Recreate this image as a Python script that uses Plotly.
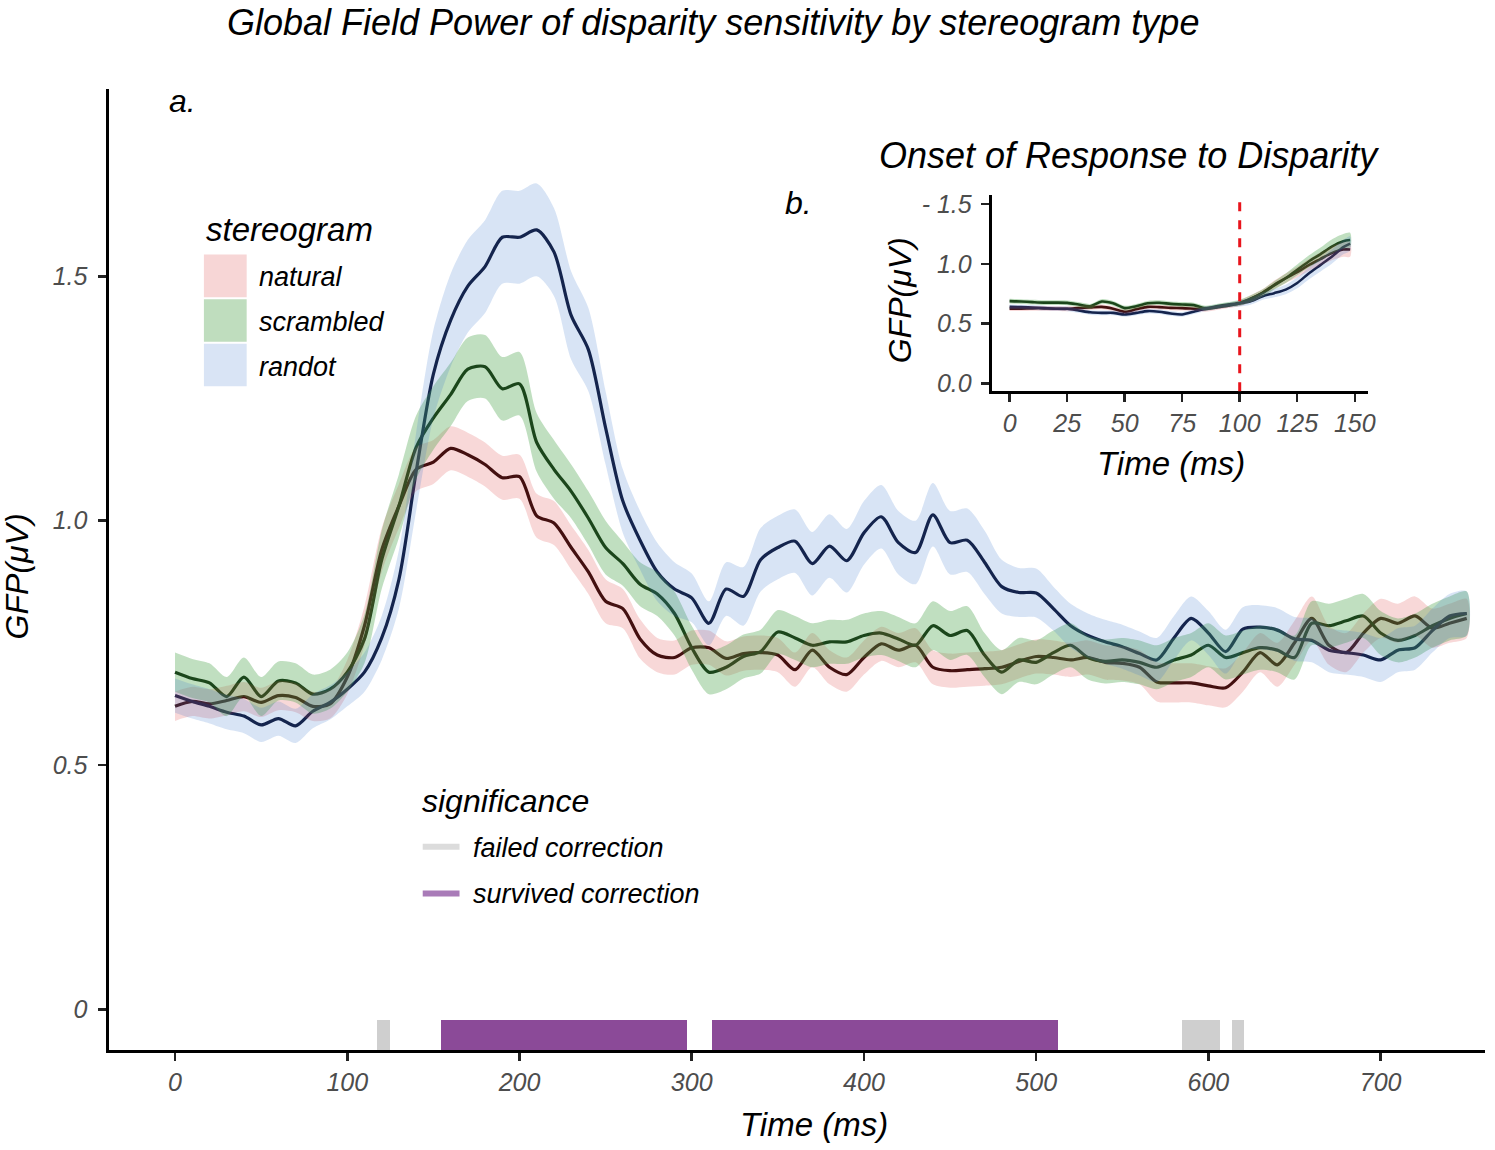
import plotly.graph_objects as go

W, H = 1495, 1150

# ---------------- data ----------------
time_ms = list(range(0, 751, 10))

natural = [0.620, 0.630, 0.625, 0.632, 0.640, 0.628, 0.642, 0.638, 0.620, 0.625,
           0.680, 0.785, 0.940, 1.030, 1.105, 1.120, 1.148, 1.135, 1.115, 1.088,
           1.090, 1.010, 0.995, 0.945, 0.895, 0.835, 0.820, 0.758, 0.725, 0.720,
           0.740, 0.740, 0.718, 0.728, 0.730, 0.725, 0.695, 0.735, 0.700, 0.685,
           0.720, 0.748, 0.735, 0.745, 0.700, 0.693, 0.695, 0.697, 0.700, 0.712,
           0.722, 0.720, 0.715, 0.720, 0.710, 0.708, 0.700, 0.670, 0.668, 0.668,
           0.662, 0.658, 0.690, 0.730, 0.705, 0.750, 0.800, 0.745, 0.730, 0.770,
           0.800, 0.790, 0.805, 0.780, 0.790, 0.800]

scrambled = [0.690, 0.677, 0.668, 0.640, 0.680, 0.640, 0.672, 0.668, 0.645, 0.655,
             0.690, 0.758, 0.920, 1.030, 1.150, 1.210, 1.258, 1.310, 1.315, 1.270,
             1.280, 1.160, 1.105, 1.060, 1.005, 0.945, 0.912, 0.870, 0.850, 0.810,
             0.740, 0.690, 0.700, 0.722, 0.732, 0.772, 0.760, 0.745, 0.752, 0.752,
             0.765, 0.770, 0.758, 0.745, 0.785, 0.765, 0.775, 0.725, 0.690, 0.715,
             0.710, 0.730, 0.745, 0.720, 0.712, 0.715, 0.710, 0.700, 0.715, 0.725,
             0.745, 0.720, 0.730, 0.740, 0.735, 0.720, 0.790, 0.785, 0.795, 0.805,
             0.770, 0.755, 0.765, 0.785, 0.800, 0.810]

randot = [0.642, 0.630, 0.620, 0.608, 0.600, 0.582, 0.595, 0.580, 0.610, 0.628,
          0.655, 0.690, 0.760, 0.880, 1.100, 1.300, 1.410, 1.480, 1.520, 1.580,
          1.580, 1.595, 1.550, 1.420, 1.350, 1.190, 1.040, 0.960, 0.895, 0.860,
          0.842, 0.790, 0.860, 0.845, 0.920, 0.945, 0.958, 0.912, 0.948, 0.918,
          0.975, 1.008, 0.955, 0.935, 1.012, 0.955, 0.960, 0.915, 0.865, 0.853,
          0.852, 0.820, 0.785, 0.765, 0.752, 0.742, 0.728, 0.715, 0.760, 0.800,
          0.770, 0.732, 0.778, 0.782, 0.776, 0.758, 0.755, 0.735, 0.730, 0.725,
          0.715, 0.735, 0.740, 0.775, 0.805, 0.810]

se_natural = [0.030, 0.030, 0.030, 0.030, 0.030, 0.030, 0.030, 0.030, 0.030, 0.030,
              0.035, 0.040, 0.045, 0.045, 0.045, 0.045, 0.045, 0.045, 0.045, 0.045,
              0.045, 0.045, 0.045, 0.045, 0.045, 0.045, 0.040, 0.040, 0.035, 0.035,
              0.035, 0.035, 0.035, 0.035, 0.035, 0.035, 0.035, 0.035, 0.035, 0.035,
              0.035, 0.035, 0.035, 0.035, 0.035, 0.035, 0.035, 0.035, 0.035, 0.035,
              0.035, 0.035, 0.035, 0.035, 0.035, 0.035, 0.035, 0.040, 0.040, 0.040,
              0.040, 0.040, 0.040, 0.040, 0.045, 0.045, 0.045, 0.040, 0.040, 0.040,
              0.040, 0.040, 0.040, 0.040, 0.040, 0.040]

se_scrambled = [0.040, 0.040, 0.040, 0.040, 0.040, 0.040, 0.040, 0.040, 0.040, 0.040,
                0.040, 0.050, 0.060, 0.065, 0.065, 0.065, 0.065, 0.065, 0.065, 0.065,
                0.065, 0.060, 0.060, 0.055, 0.055, 0.055, 0.045, 0.045, 0.045, 0.045,
                0.045, 0.045, 0.045, 0.045, 0.045, 0.045, 0.045, 0.045, 0.045, 0.045,
                0.045, 0.045, 0.045, 0.045, 0.050, 0.050, 0.050, 0.045, 0.045, 0.045,
                0.045, 0.045, 0.045, 0.045, 0.045, 0.045, 0.045, 0.045, 0.045, 0.045,
                0.045, 0.045, 0.045, 0.045, 0.045, 0.045, 0.045, 0.045, 0.045, 0.045,
                0.045, 0.045, 0.045, 0.045, 0.045, 0.045]

se_randot = [0.035, 0.035, 0.035, 0.035, 0.035, 0.035, 0.035, 0.035, 0.035, 0.035,
             0.035, 0.040, 0.045, 0.060, 0.080, 0.090, 0.095, 0.095, 0.095, 0.095,
             0.095, 0.095, 0.090, 0.090, 0.085, 0.075, 0.065, 0.060, 0.060, 0.055,
             0.050, 0.045, 0.055, 0.060, 0.065, 0.065, 0.065, 0.065, 0.065, 0.065,
             0.065, 0.065, 0.065, 0.065, 0.065, 0.065, 0.065, 0.065, 0.055, 0.050,
             0.050, 0.045, 0.045, 0.045, 0.045, 0.045, 0.045, 0.045, 0.045, 0.045,
             0.045, 0.045, 0.045, 0.045, 0.045, 0.045, 0.045, 0.045, 0.045, 0.045,
             0.045, 0.045, 0.045, 0.045, 0.045, 0.045]

# inset (onset) panel: 0-148 ms
inset_time = [0, 5, 10, 15, 20, 25, 30, 35, 40, 45, 50, 55, 60, 65, 70, 75, 80, 85,
              90, 95, 100, 105, 110, 115, 120, 125, 130, 135, 140, 145, 148]
inset_natural = [0.625, 0.625, 0.628, 0.628, 0.625, 0.624, 0.630, 0.635, 0.640, 0.625,
                 0.600, 0.620, 0.640, 0.638, 0.632, 0.630, 0.625, 0.620, 0.635, 0.650,
                 0.670, 0.710, 0.760, 0.825, 0.880, 0.930, 0.990, 1.040, 1.090, 1.120,
                 1.120]
inset_scrambled = [0.688, 0.685, 0.680, 0.676, 0.676, 0.674, 0.660, 0.645, 0.685, 0.670,
                   0.630, 0.645, 0.670, 0.675, 0.665, 0.660, 0.655, 0.630, 0.645, 0.660,
                   0.675, 0.710, 0.757, 0.820, 0.880, 0.950, 1.020, 1.080, 1.145, 1.190,
                   1.200]
inset_randot = [0.640, 0.638, 0.635, 0.630, 0.625, 0.624, 0.610, 0.595, 0.590, 0.590,
                0.577, 0.590, 0.605, 0.600, 0.585, 0.577, 0.600, 0.624, 0.640, 0.655,
                0.668, 0.690, 0.730, 0.755, 0.785, 0.840, 0.920, 0.990, 1.060, 1.140,
                1.170]
inset_se = [0.020, 0.020, 0.020, 0.020, 0.020, 0.020, 0.020, 0.020, 0.020, 0.020,
            0.020, 0.020, 0.020, 0.020, 0.020, 0.020, 0.020, 0.020, 0.020, 0.020,
            0.025, 0.030, 0.030, 0.035, 0.040, 0.045, 0.050, 0.055, 0.060, 0.060,
            0.060]

stereogram_names = ["natural", "scrambled", "randot"]

# significance intervals (ms)
sig_start = [117.5, 154.5, 311.8, 584.8, 613.5]
sig_end = [124.8, 297.4, 512.4, 606.5, 620.7]
sig_status = ["failed", "survived", "survived", "failed", "failed"]
sig_names = {"failed": "failed correction", "survived": "survived correction"}

onset_ms = 100

main_yticks = [0, 0.5, 1.0, 1.5]
main_yticktext = ["0", "0.5", "1.0", "1.5"]
main_xticks = [0, 100, 200, 300, 400, 500, 600, 700]
inset_xticks = [0, 25, 50, 75, 100, 125, 150]
inset_yticks = [0, 0.5, 1.0, 1.5]
inset_yticktext = ["0.0", "0.5", "1.0", "- 1.5"]

for arr in (natural, scrambled, randot, se_natural, se_scrambled, se_randot):
    assert len(arr) == len(time_ms), len(arr)
for arr in (inset_natural, inset_scrambled, inset_randot, inset_se):
    assert len(arr) == len(inset_time), len(arr)

# ---------------- style ----------------
FONT = "Liberation Sans"
line_colors = {"natural": "#1e0606", "scrambled": "#061806", "randot": "#0a0f2e"}
fill_colors = {"natural": "rgba(222,60,60,0.20)",
               "scrambled": "rgba(70,160,70,0.34)",
               "randot": "rgba(60,120,205,0.20)"}
key_colors = {"natural": "#f7d6d6", "scrambled": "#bfddbe", "randot": "#d9e4f5"}
sig_colors = {"failed": "#cfcfcf", "survived": "#8b4a98"}
sig_key_colors = {"failed": "#dcdcdc", "survived": "#a97bb8"}

main_series = {"natural": (natural, se_natural),
               "scrambled": (scrambled, se_scrambled),
               "randot": (randot, se_randot)}
inset_series = {"natural": (inset_natural, inset_se),
                "scrambled": (inset_scrambled, inset_se),
                "randot": (inset_randot, inset_se)}


def px_x(px):
    return px / W


def px_y(py):
    return 1 - py / H


fig = go.Figure()


def add_series(xs, series, xaxis, yaxis, lw):
    # lines first, ribbons on top (as in the reference)
    for name in stereogram_names:
        vals, se = series[name]
        fig.add_trace(go.Scatter(x=xs, y=vals, mode="lines",
                                 line=dict(color=line_colors[name], width=lw,
                                           shape="spline", smoothing=0.8),
                                 xaxis=xaxis, yaxis=yaxis, showlegend=False,
                                 hoverinfo="skip"))
    for name in stereogram_names:
        vals, se = series[name]
        up = [v + s for v, s in zip(vals, se)]
        lo = [v - s for v, s in zip(vals, se)]
        fig.add_trace(go.Scatter(x=list(xs) + list(xs)[::-1], y=up + lo[::-1],
                                 mode="lines", fill="toself",
                                 fillcolor=fill_colors[name],
                                 line=dict(width=0, shape="spline", smoothing=0.8),
                                 xaxis=xaxis, yaxis=yaxis, showlegend=False,
                                 hoverinfo="skip"))


add_series(time_ms, main_series, "x", "y", 3.2)
add_series(inset_time, inset_series, "x2", "y2", 2.6)

# significance bars
main_yrange = [-0.0831, 1.883]
bar_top = -0.022
fig.add_trace(go.Bar(
    x=[(s + e) / 2 for s, e in zip(sig_start, sig_end)],
    width=[e - s for s, e in zip(sig_start, sig_end)],
    y=[bar_top - main_yrange[0]] * len(sig_start),
    base=[main_yrange[0]] * len(sig_start),
    marker=dict(color=[sig_colors[s] for s in sig_status], line=dict(width=0)),
    xaxis="x", yaxis="y", showlegend=False, hoverinfo="skip"))

# onset line in inset
fig.add_shape(type="line", xref="x2", yref="y2 domain", x0=onset_ms, x1=onset_ms,
              y0=0, y1=1, line=dict(color="#e8141c", width=3, dash="dash"))

tickfont = dict(family=FONT, size=25, color="#4d4d4d", style="italic")
axis_common = dict(showgrid=False, zeroline=False, showline=True, linecolor="black",
                   linewidth=3, ticks="outside", ticklen=8, tickwidth=2.5,
                   tickcolor="#222222", tickfont=tickfont)

fig.update_layout(
    width=W, height=H, autosize=False,
    margin=dict(l=0, r=0, t=0, b=0),
    paper_bgcolor="white", plot_bgcolor="rgba(0,0,0,0)",
    barmode="overlay", bargap=0,
    xaxis=dict(domain=[px_x(110), px_x(1493)], range=[-38.1, 760.6],
               tickvals=main_xticks, anchor="y", **axis_common),
    yaxis=dict(domain=[px_y(1055), px_y(85)], range=main_yrange,
               tickvals=main_yticks, ticktext=main_yticktext, anchor="x",
               ticklabelstandoff=6, **axis_common),
    xaxis2=dict(domain=[px_x(997), px_x(1375)], range=[-7.8, 155.6],
                tickvals=inset_xticks, anchor="y2", **axis_common),
    yaxis2=dict(domain=[px_y(390), px_y(192)], range=[-0.066, 1.575],
                tickvals=inset_yticks, ticktext=inset_yticktext, anchor="x2",
                ticklabelstandoff=4, **axis_common),
    showlegend=False,
)

annotations = []


def ann(text, x, y, size, xanchor="center", angle=0, color="black"):
    annotations.append(dict(text=text, x=px_x(x), y=px_y(y), xref="paper", yref="paper",
                            xanchor=xanchor, yanchor="middle", showarrow=False,
                            textangle=angle,
                            font=dict(family=FONT, size=size, color=color, style="italic")))


ann("Global Field Power of disparity sensitivity by stereogram type", 717, 18, 36)
ann("a.", 183, 97, 32)
ann("b.", 803, 200, 32)
ann("Onset of Response to Disparity", 1135, 152, 36)
ann("GFP(μV)", 18, 577, 32, angle=-90)
ann("Time (ms)", 818, 1130, 33)
ann("GFP(μV)", 905, 298, 32, angle=-90)
ann("Time (ms)", 1177, 463, 33)

# stereogram legend
ann("stereogram", 205, 227, 33, xanchor="left")
key_tops = [252, 297, 342]
for name, top in zip(stereogram_names, key_tops):
    fig.add_shape(type="rect", xref="paper", yref="paper",
                  x0=px_x(205), x1=px_x(248), y0=px_y(top + 43), y1=px_y(top),
                  fillcolor=key_colors[name], line=dict(width=0), layer="below")
    ann(name, 258, top + 23, 27, xanchor="left")

# significance legend
ann("significance", 422, 804, 32, xanchor="left")
for status, yy in zip(["failed", "survived"], [850, 897]):
    fig.add_shape(type="line", xref="paper", yref="paper",
                  x0=px_x(425), x1=px_x(462), y0=px_y(yy), y1=px_y(yy),
                  line=dict(color=sig_key_colors[status], width=6))
    ann(sig_names[status], 474, yy + 1, 27, xanchor="left")

fig.update_layout(annotations=annotations)

fig.write_html("out.html",
               config={"displayModeBar": False, "staticPlot": True},
               post_script="document.documentElement.style.margin='0px';"
                           "document.body.style.margin='0px';"
                           "document.body.style.overflow='hidden';"
                           "document.documentElement.style.overflow='hidden';"
                           "var d=document.getElementById('{plot_id}');"
                           "d.style.position='fixed';d.style.left='0px';"
                           "d.style.top='0px';")
